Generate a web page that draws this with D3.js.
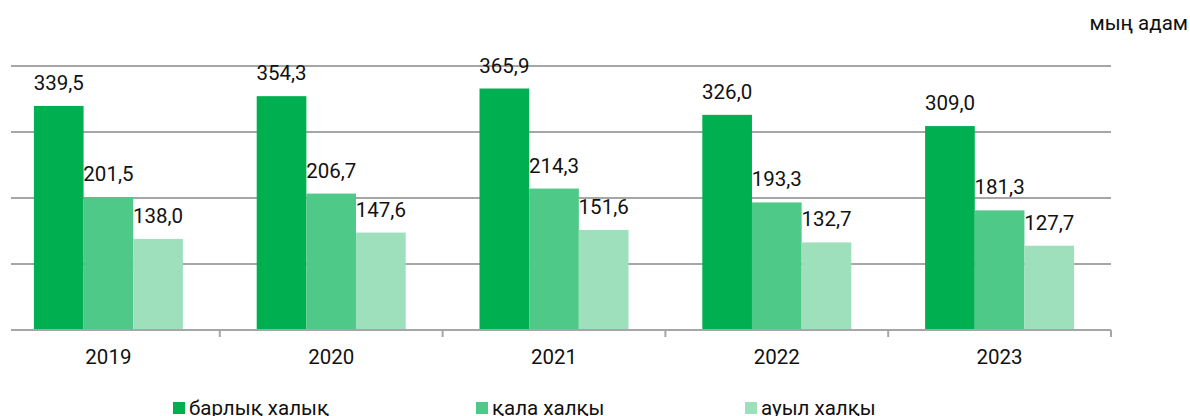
<!DOCTYPE html>
<html>
<head>
<meta charset="utf-8">
<script src="https://cdn.jsdelivr.net/npm/d3@7"></script>
<style>
  body { margin: 0; background: #fff; }
  svg { display: block; font-family: Roboto, "Noto Sans", sans-serif; }
</style>
</head>
<body>
<svg id="chart" width="1190" height="416"></svg>
<script>
const years = ["2019", "2020", "2021", "2022", "2023"];
const seriesNames = ["барлық халық", "қала халқы", "ауыл халқы"];
const total = [339.5, 354.3, 365.9, 326.0, 309.0];
const urban = [201.5, 206.7, 214.3, 193.3, 181.3];
const rural = [138.0, 147.6, 151.6, 132.7, 127.7];
const yTicks = [0, 100, 200, 300, 400];
const unitLabel = "мың адам";

const colors = ["#00b050", "#4fc987", "#9ee0bb"];
const series = [total, urban, rural];

const svg = d3.select("#chart");
const plot = { left: -3, right: 1111, top: 66, bottom: 330 };
const fontSize = "20.5px";

const x = d3.scaleBand()
  .domain(years)
  .range([plot.left, plot.right]);

const groupW = 149;
const xs = d3.scaleBand()
  .domain(d3.range(series.length))
  .range([0, groupW]);

const y = d3.scaleLinear()
  .domain([0, 400])
  .range([plot.bottom, plot.top]);

const fmt = v => d3.format(".1f")(v).replace(".", ",");

// gridlines
svg.append("g")
  .selectAll("line")
  .data(yTicks.filter(d => d > 0))
  .join("line")
  .attr("x1", 11)
  .attr("x2", plot.right)
  .attr("y1", d => y(d))
  .attr("y2", d => y(d))
  .attr("stroke", "#a6a6a6")
  .attr("stroke-width", 2);

// bars + value labels
const groups = svg.append("g")
  .selectAll("g")
  .data(years)
  .join("g")
  .attr("transform", d => `translate(${x(d) + x.bandwidth() / 2 - groupW / 2},0)`);

groups.each(function(yr, i) {
  const gg = d3.select(this);
  series.forEach((s, k) => {
    gg.append("rect")
      .attr("x", xs(k))
      .attr("width", xs.bandwidth())
      .attr("y", y(s[i]))
      .attr("height", y(0) - y(s[i]))
      .attr("fill", colors[k]);
  });
  series.forEach((s, k) => {
    gg.append("text")
      .attr("x", xs(k) + xs.bandwidth() / 2)
      .attr("y", y(s[i]) - 16)
      .attr("text-anchor", "middle")
      .attr("fill", "#111")
      .style("font-size", fontSize)
      .text(fmt(s[i]));
  });
});

// x axis
const xAxis = svg.append("g")
  .attr("transform", `translate(0,${plot.bottom})`);

xAxis.append("line")
  .attr("x1", 11)
  .attr("x2", plot.right)
  .attr("stroke", "#a6a6a6")
  .attr("stroke-width", 2);

xAxis.selectAll(".tick")
  .data(years)
  .join("line")
  .attr("class", "tick")
  .attr("x1", d => x(d) + x.bandwidth())
  .attr("x2", d => x(d) + x.bandwidth())
  .attr("y1", 0)
  .attr("y2", 7)
  .attr("stroke", "#a6a6a6")
  .attr("stroke-width", 2);

xAxis.selectAll(".lbl")
  .data(years)
  .join("text")
  .attr("class", "lbl")
  .attr("x", d => x(d) + x.bandwidth() / 2)
  .attr("y", 34)
  .attr("text-anchor", "middle")
  .attr("fill", "#111")
  .style("font-size", fontSize)
  .text(d => d);

// unit
svg.append("text")
  .attr("x", 1188)
  .attr("y", 30)
  .attr("text-anchor", "end")
  .attr("fill", "#111")
  .style("font-size", fontSize)
  .text(unitLabel);

// legend
const legendX = [173, 476, 745];
const legend = svg.append("g")
  .selectAll("g")
  .data(seriesNames)
  .join("g")
  .attr("transform", (d, i) => `translate(${legendX[i]},402)`);

legend.append("rect")
  .attr("width", 12)
  .attr("height", 12)
  .attr("fill", (d, i) => colors[i]);

legend.append("text")
  .attr("x", 16)
  .attr("y", 13)
  .attr("fill", "#111")
  .style("font-size", fontSize)
  .text(d => d);
</script>
</body>
</html>
